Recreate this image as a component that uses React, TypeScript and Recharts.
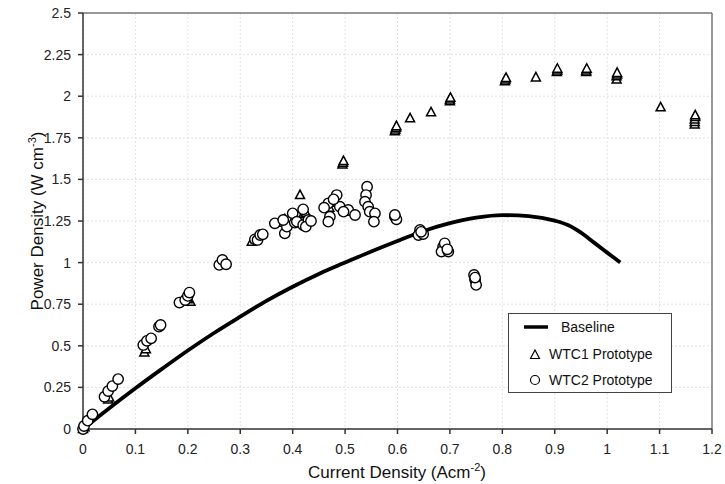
import React from "react";
import {
  ComposedChart,
  Line,
  Scatter,
  XAxis,
  YAxis,
  CartesianGrid,
  ReferenceLine,
  Label,
} from "recharts";

// Baseline polarisation curve
const baselineX = [0, 0.05, 0.1, 0.15, 0.2, 0.25, 0.3, 0.35, 0.4, 0.45, 0.5, 0.55, 0.6, 0.65, 0.7, 0.75, 0.8, 0.85, 0.9, 0.925, 0.95, 0.975, 1.0, 1.025];
const baselineY = [0, 0.125, 0.245, 0.36, 0.472, 0.577, 0.675, 0.77, 0.855, 0.932, 1.0, 1.067, 1.13, 1.19, 1.237, 1.27, 1.285, 1.279, 1.252, 1.226, 1.18, 1.12, 1.06, 1.0];

const wtc1X = [0, 0.003, 0.048, 0.05, 0.117, 0.12, 0.205, 0.2, 0.322, 0.33, 0.38, 0.385, 0.414, 0.42, 0.425, 0.47, 0.48, 0.495, 0.496, 0.497, 0.595, 0.596, 0.597, 0.598, 0.624, 0.664, 0.7, 0.7, 0.701, 0.805, 0.806, 0.807, 0.864, 0.904, 0.905, 0.905, 0.96, 0.96, 0.961, 1.018, 1.018, 1.019, 1.019, 1.102, 1.167, 1.167, 1.167, 1.168, 1.168];
const wtc1Y = [0, 0.01, 0.178, 0.19, 0.46, 0.48, 0.765, 0.78, 1.126, 1.14, 1.24, 1.26, 1.406, 1.29, 1.3, 1.33, 1.36, 1.59, 1.6, 1.61, 1.79, 1.8, 1.81, 1.82, 1.867, 1.903, 1.97, 1.98, 1.99, 2.09, 2.1, 2.11, 2.113, 2.145, 2.155, 2.165, 2.145, 2.155, 2.165, 2.1, 2.12, 2.13, 2.14, 1.933, 1.83, 1.845, 1.86, 1.875, 1.885];

const wtc2X = [0, 0.002, 0.009, 0.018, 0.041, 0.048, 0.056, 0.067, 0.115, 0.122, 0.13, 0.145, 0.148, 0.184, 0.195, 0.2, 0.203, 0.26, 0.266, 0.273, 0.328, 0.333, 0.338, 0.343, 0.366, 0.385, 0.389, 0.404, 0.382, 0.4, 0.408, 0.42, 0.42, 0.43, 0.425, 0.435, 0.468, 0.484, 0.471, 0.468, 0.49, 0.506, 0.519, 0.497, 0.478, 0.46, 0.542, 0.54, 0.538, 0.544, 0.547, 0.557, 0.555, 0.595, 0.598, 0.595, 0.643, 0.64, 0.649, 0.645, 0.687, 0.684, 0.697, 0.69, 0.695, 0.746, 0.748, 0.75, 0.748];
const wtc2Y = [0, 0.018, 0.05, 0.088, 0.194, 0.228, 0.258, 0.3, 0.505, 0.53, 0.545, 0.615, 0.625, 0.76, 0.775, 0.8, 0.82, 0.986, 1.016, 0.99, 1.14, 1.136, 1.166, 1.17, 1.236, 1.176, 1.216, 1.24, 1.256, 1.296, 1.246, 1.32, 1.226, 1.256, 1.216, 1.25, 1.356, 1.406, 1.276, 1.246, 1.336, 1.316, 1.286, 1.306, 1.38, 1.33, 1.456, 1.406, 1.366, 1.336, 1.306, 1.296, 1.246, 1.276, 1.26, 1.286, 1.196, 1.166, 1.172, 1.185, 1.096, 1.066, 1.066, 1.116, 1.08, 0.926, 0.896, 0.866, 0.91];

const xTicks = [0, 0.1, 0.2, 0.3, 0.4, 0.5, 0.6, 0.7, 0.8, 0.9, 1, 1.1, 1.2];
const yTicks = [0, 0.25, 0.5, 0.75, 1, 1.25, 1.5, 1.75, 2, 2.25, 2.5];

const zip = (xs: number[], ys: number[]) => xs.map((x, i) => ({ x, y: ys[i] }));
const baseline = zip(baselineX, baselineY);
const wtc1 = zip(wtc1X, wtc1Y);
const wtc2 = zip(wtc2X, wtc2Y);

const FONT = "'Liberation Sans', Arial, sans-serif";

function Triangle(props: any) {
  const { cx, cy } = props;
  if (cx == null || cy == null) return null;
  return (
    <polygon
      points={`${cx},${cy - 5} ${cx - 4.5},${cy + 3.5} ${cx + 4.5},${cy + 3.5}`}
      fill="#fff"
      stroke="#000"
      strokeWidth={1.5}
    />
  );
}

function Circle(props: any) {
  const { cx, cy } = props;
  if (cx == null || cy == null) return null;
  return <circle cx={cx} cy={cy} r={5.2} fill="#fff" stroke="#000" strokeWidth={1.4} />;
}

export default function App() {
  return (
    <div style={{ position: "absolute", left: 0, top: 0, width: 725, height: 484, fontFamily: FONT }}>
      <ComposedChart
        width={725}
        height={484}
        margin={{ top: 13, right: 13, left: 0, bottom: 0 }}
      >
        <CartesianGrid stroke="#e2e2e2" strokeDasharray="2 2" />
        <XAxis
          type="number"
          dataKey="x"
          domain={[0, 1.2]}
          ticks={xTicks}
          height={55}
          tickSize={5}
          tickMargin={10}
          stroke="#333"
          strokeWidth={1.5}
          tick={{ fill: "#222", fontSize: 14, fontFamily: FONT }}
        >
          <Label
            content={() => (
              <text x={397} y={478} textAnchor="middle" fontSize={17} fontFamily={FONT} fill="#111">
                Current Density (Acm
                <tspan dy={-7} fontSize={11}>-2</tspan>
                <tspan dy={7}>)</tspan>
              </text>
            )}
          />
        </XAxis>
        <YAxis
          type="number"
          dataKey="y"
          domain={[0, 2.5]}
          ticks={yTicks}
          width={83}
          tickSize={5}
          tickMargin={7}
          stroke="#333"
          strokeWidth={1.5}
          tick={{ fill: "#222", fontSize: 14, fontFamily: FONT }}
        >
          <Label
            content={() => (
              <text
                x={43}
                y={221}
                transform="rotate(-90, 43, 221)"
                textAnchor="middle"
                fontSize={17}
                fontFamily={FONT}
                fill="#111"
              >
                Power Density (W cm
                <tspan dy={-7} fontSize={11}>-3</tspan>
                <tspan dy={7}>)</tspan>
              </text>
            )}
          />
        </YAxis>
        <ReferenceLine y={2.5} stroke="#777" strokeWidth={1.5} />
        <ReferenceLine x={1.2} stroke="#777" strokeWidth={1.5} />
        <Line
          data={baseline}
          dataKey="y"
          type="monotone"
          stroke="#000"
          strokeWidth={3.8}
          dot={false}
          isAnimationActive={false}
          name="Baseline"
        />
        <Scatter data={wtc1} dataKey="y" shape={Triangle} isAnimationActive={false} name="WTC1 Prototype" />
        <Scatter data={wtc2} dataKey="y" shape={Circle} isAnimationActive={false} name="WTC2 Prototype" />
      </ComposedChart>
      <div
        style={{
          position: "absolute",
          left: 508,
          top: 313,
          width: 162,
          height: 78,
          border: "1px solid #444",
          background: "#fff",
          fontSize: 14,
          color: "#111",
        }}
      >
        <svg width={40} height={78} style={{ position: "absolute", left: 0, top: 0 }}>
          <line x1={15} y1={13} x2={39} y2={13} stroke="#000" strokeWidth={3.5} />
          <polygon points="26,36 21.5,44.5 30.5,44.5" fill="#fff" stroke="#000" strokeWidth={1.2} />
          <circle cx={26} cy={66} r={4.5} fill="#fff" stroke="#000" strokeWidth={1.2} />
        </svg>
        <div style={{ position: "absolute", left: 52, top: 4, lineHeight: "18px" }}>Baseline</div>
        <div style={{ position: "absolute", left: 40, top: 31, lineHeight: "18px", whiteSpace: "nowrap" }}>WTC1 Prototype</div>
        <div style={{ position: "absolute", left: 40, top: 57, lineHeight: "18px", whiteSpace: "nowrap" }}>WTC2 Prototype</div>
      </div>
    </div>
  );
}
